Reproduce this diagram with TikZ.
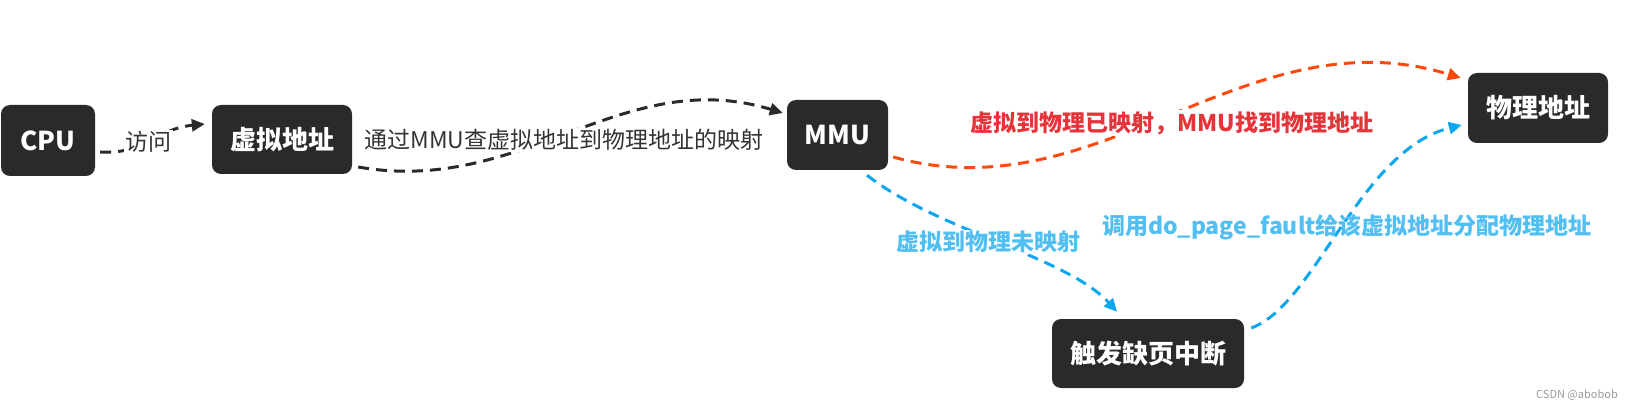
\documentclass[tikz,border=0pt]{standalone}
\usepackage{fontspec}
\setmainfont{Noto Sans CJK SC}
\usetikzlibrary{arrows.meta,calc}
\definecolor{boxc}{HTML}{2A2A2A}
\definecolor{lblk}{HTML}{333333}
\definecolor{redline}{HTML}{FF4A0D}
\definecolor{redtxt}{HTML}{E5353A}
\definecolor{blueline}{HTML}{0EA6EE}
\definecolor{bluetxt}{HTML}{52BFF3}
\definecolor{wm}{HTML}{9A9A9A}
\begin{document}
\begin{tikzpicture}[x=1pt,y=-1pt,
  box/.style={fill=boxc, rounded corners=9pt, text=white, font=\fontsize{26}{30}\selectfont\bfseries, inner sep=0pt, minimum height=70pt},
  conn/.style={line width=3pt, dash pattern=on 11pt off 7pt, -{Triangle[length=13pt,width=12pt]}},
  lbl/.style={fill=white, inner sep=1.5pt, font=\fontsize{23}{26}\selectfont},
  blbl/.style={lbl, font=\fontsize{23}{26}\selectfont\bfseries}
]
\useasboundingbox (0,0) rectangle (1634,409);

\node[box, minimum width=94pt, minimum height=71pt] (cpu) at (48,140.5) {CPU};
\node[box, minimum width=140pt, minimum height=69pt] (va) at (282,139.5) {虚拟地址};
\node[box, minimum width=101pt] (mmu) at (837.5,135) {MMU};
\node[box, minimum width=140pt] (pa) at (1538,108) {物理地址};
\node[box, minimum width=192pt, minimum height=69pt] (pf) at (1148,353.5) {触发缺页中断};

\draw[conn, draw=boxc] ([shift={(5,11.5)}]cpu.east) .. controls +(50,2) and +(-50,5) .. ([shift={(-7,-15.5)}]va.west);
\draw[conn, draw=boxc] ([shift={(6,27.5)}]va.east) .. controls +(165,29) and +(-161,-49) .. ([shift={(-4,-22)}]mmu.west);
\draw[conn, draw=redline] ([shift={(5,22)}]mmu.east) .. controls +(207,58) and +(-215,-66) .. ([shift={(-7,-30)}]pa.west);
\draw[conn, draw=blueline] ([shift={(29.5,5)}]mmu.south) .. controls +(70,55) and +(-50,-55) .. ([shift={(-31,-7)}]pf.north);
\draw[conn, draw=blueline] ([shift={(7,-25.5)}]pf.east) .. controls +(64,-23) and +(-102,25) .. ([shift={(-6,17)}]pa.west);

\node[lbl, text=lblk] (l1) at (148,142) {访问};
\node[lbl, text=lblk] (l2) at (564,140) {通过MMU查虚拟地址到物理地址的映射};
\node[blbl, text=redtxt] (l3) at (1172,123) {虚拟到物理已映射，MMU找到物理地址};
\node[blbl, text=bluetxt] (l4) at (988,242) {虚拟到物理未映射};
\node[blbl, text=bluetxt, fill=none] (l5) at (1347,227) {调用do\_page\_fault给该虚拟地址分配物理地址};

\node[anchor=east, text=wm, inner sep=0pt, font=\fontsize{11}{13}\selectfont] (wmk) at (1618,395) {CSDN @abobob};
\end{tikzpicture}
\end{document}
